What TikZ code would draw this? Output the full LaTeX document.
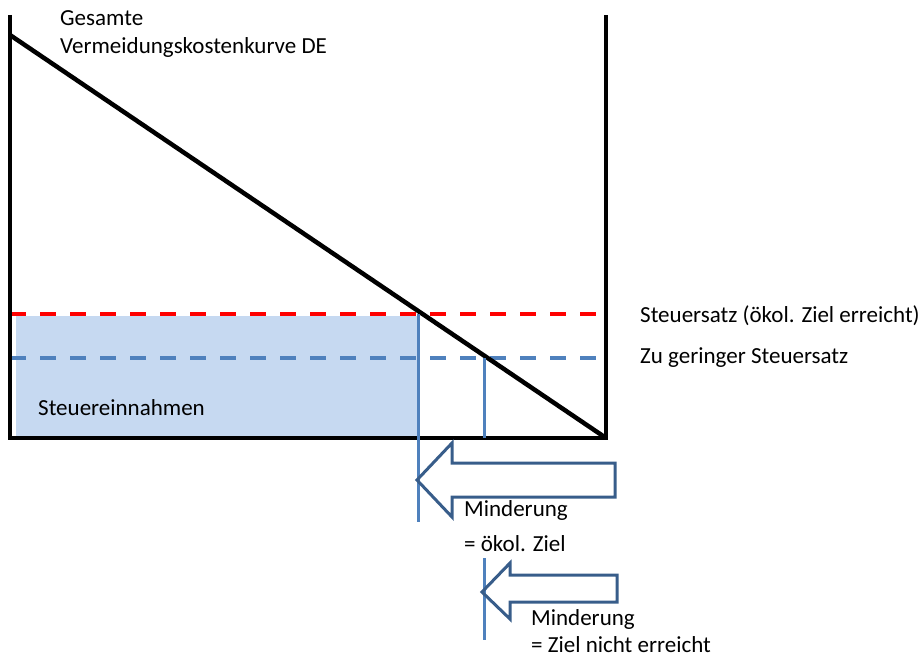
\documentclass[tikz,border=0pt]{standalone}
\usepackage{fontspec}
\setmainfont{Carlito}
\usetikzlibrary{positioning}

\definecolor{taxfill}{HTML}{C6D9F1}
\definecolor{taxblue}{HTML}{4F81BD}
\definecolor{arrowblue}{HTML}{385D8A}

\tikzset{
  axisline/.style={black,line width=4.5pt},
  ratehigh/.style={red,line width=4pt,dash pattern=on 16pt off 14pt},
  ratelow/.style={taxblue,line width=4pt,dash pattern=on 16pt off 14pt},
  guide/.style={taxblue,line width=3pt},
  blockarrow/.style={arrowblue,line width=3pt,line join=miter},
  lbl/.style={anchor=west,inner sep=0pt,font=\fontsize{23}{26}\selectfont}
}

\begin{document}
\begin{tikzpicture}[x=1pt,y=-1pt]
  \useasboundingbox (0,0) rectangle (923,658);
  % corners of the diagram
  \coordinate (TL) at (10,15);
  \coordinate (TR) at (606,15);
  \coordinate (BL) at (10,438);
  \coordinate (BR) at (606,438);
  \coordinate (curvestart) at (10,35);
  % tax revenue area
  \fill[taxfill] (16,316) rectangle (417,438);
  \node[lbl] (revenue) at (38,408) {Steuereinnahmen};
  % tax rates
  \coordinate (highL) at (10,314);
  \coordinate (highR) at (606,314);
  \coordinate (lowL)  at (10,358);
  \coordinate (lowR)  at (606,358);
  \draw[ratehigh] (highL) -- (highR);
  \draw[ratelow]  (lowL) -- (lowR);
  \node[lbl] (high) at (640,316) {Steuersatz (ökol. Ziel erreicht)};
  \node[lbl] (low)  at (640,358) {Zu geringer Steuersatz};
  % axes and abatement cost curve
  \draw[axisline] (TL) -- (BL) -- (BR) -- (TR);
  \draw[axisline] (curvestart) -- (BR);
  \node[lbl] (curve1) at (60,18) {Gesamte};
  \node[lbl] (curve2) at (60,47) {Vermeidungskostenkurve DE};
  % abatement marks
  \coordinate (cutA) at (418,314);
  \coordinate (footA) at (418,522);
  \coordinate (cutB) at (484,358);
  \coordinate (footB) at (484,438);
  \coordinate (topC) at (484,558);
  \coordinate (footC) at (484,640);
  \draw[guide] (cutA) -- (footA);
  \draw[guide] (cutB) -- (footB);
  \draw[guide] (topC) -- (footC);
  % block arrows
  \draw[blockarrow] (417,480) -- (452,443) -- (452,463) -- (615,463)
    -- (615,497) -- (452,497) -- (452,517) -- cycle;
  \draw[blockarrow] (482,592) -- (510,563) -- (510,575) -- (617,575)
    -- (617,602) -- (510,602) -- (510,619) -- cycle;
  \node[lbl] (lessA1) at (464,510) {Minderung};
  \node[lbl] (lessA2) at (464,544) {= ökol. Ziel};
  \node[lbl] (lessB1) at (531,619) {Minderung};
  \node[lbl] (lessB2) at (531,645) {= Ziel nicht erreicht};
\end{tikzpicture}
\end{document}
